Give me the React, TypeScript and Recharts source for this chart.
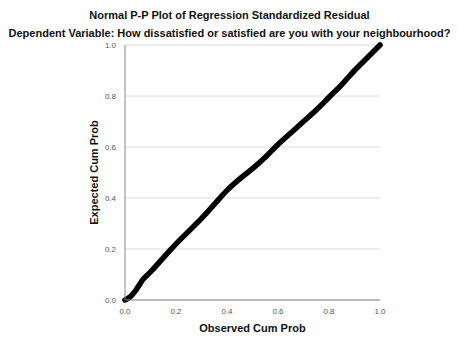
import React from "react";
import { LineChart, Line, XAxis, YAxis, CartesianGrid, Label } from "recharts";

const observedCumProb = [0, 0.02, 0.04, 0.07, 0.1, 0.15, 0.2, 0.25, 0.3, 0.35, 0.4, 0.45, 0.5, 0.55, 0.6, 0.65, 0.7, 0.75, 0.8, 0.85, 0.9, 0.95, 1.0];
const expectedCumProb = [0, 0.012, 0.035, 0.08, 0.11, 0.165, 0.22, 0.27, 0.32, 0.375, 0.43, 0.475, 0.515, 0.56, 0.61, 0.655, 0.7, 0.745, 0.795, 0.845, 0.9, 0.95, 1.0];
const tickValues = [0, 0.2, 0.4, 0.6, 0.8, 1.0];

const title = "Normal P-P Plot of Regression Standardized Residual";
const subtitle = "Dependent Variable: How dissatisfied or satisfied are you with your neighbourhood?";

const data = observedCumProb.map((o, i) => ({ obs: o, exp: expectedCumProb[i] }));

const FONT = "'Liberation Sans', Arial, sans-serif";

export default function App() {
  return (
    <div style={{ position: "absolute", left: 0, top: 0, width: 459, height: 338, background: "#fff", fontFamily: FONT }}>
      <div style={{ position: "absolute", left: 0, top: 9, width: 459, textAlign: "center", fontSize: 11, fontWeight: "bold", color: "#111", whiteSpace: "nowrap" }}>
        {title}
      </div>
      <div style={{ position: "absolute", left: 0, top: 27, width: 459, textAlign: "center", fontSize: 11, fontWeight: "bold", color: "#111", whiteSpace: "nowrap" }}>
        {subtitle}
      </div>
      <div style={{ position: "absolute", left: 0, top: 0 }}>
        <LineChart width={459} height={338} data={data} margin={{ top: 45, right: 79, bottom: 18, left: 85 }}>
          <CartesianGrid vertical={false} stroke="#dcdcdc" strokeWidth={1} />
          <XAxis
            dataKey="obs"
            type="number"
            domain={[0, 1]}
            ticks={tickValues}
            tickFormatter={(v: number) => v.toFixed(1)}
            tick={{ fontSize: 8, fill: "#555", fontFamily: FONT }}
            tickLine={false}
            tickMargin={2}
            axisLine={{ stroke: "#888" }}
            height={20}
          >
            <Label value="Observed Cum Prob" position="bottom" offset={4} style={{ fontSize: 11, fontWeight: "bold", fill: "#111", fontFamily: FONT }} />
          </XAxis>
          <YAxis
            type="number"
            domain={[0, 1]}
            ticks={tickValues}
            tickFormatter={(v: number) => v.toFixed(1)}
            tick={{ fontSize: 8, fill: "#555", fontFamily: FONT }}
            tickLine={false}
            tickMargin={3}
            axisLine={{ stroke: "#888" }}
            width={40}
          >
            <Label value="Expected Cum Prob" angle={-90} position="insideLeft" offset={9} style={{ fontSize: 11, fontWeight: "bold", fill: "#111", fontFamily: FONT, textAnchor: "middle" }} />
          </YAxis>
          <Line dataKey="exp" type="monotone" stroke="#000" strokeWidth={5.5} dot={false} isAnimationActive={false} strokeLinejoin="round" strokeLinecap="round" />
        </LineChart>
      </div>
    </div>
  );
}
